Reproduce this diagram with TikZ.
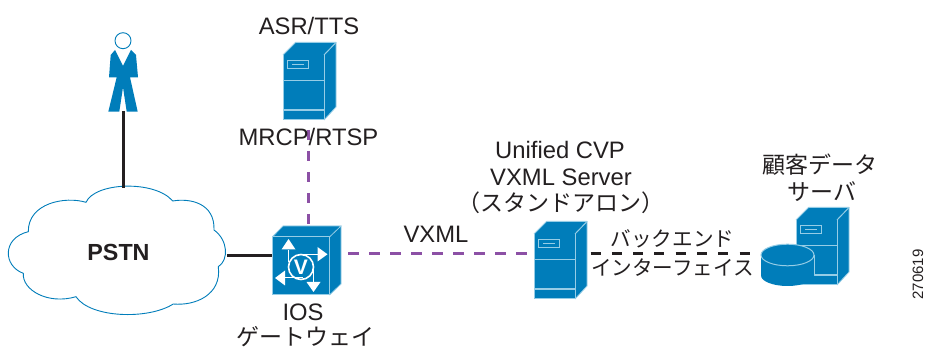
\documentclass[tikz,border=0pt]{standalone}
\usepackage{fontspec}
\setmainfont{Liberation Sans}
\newfontfamily\cjk{Noto Sans CJK JP}
\definecolor{ciscoblue}{RGB}{0,125,186}
\definecolor{linkpurple}{RGB}{140,80,165}
\definecolor{edgeblue}{RGB}{150,205,230}
\definecolor{inktext}{RGB}{35,31,32}
\tikzset{
  lbl/.style={inner sep=0pt,font=\fontsize{23.8}{26}\selectfont,text=inktext},
  jlbl/.style={inner sep=0pt,font=\fontsize{23}{26}\cjk,text=inktext},
  jsmall/.style={inner sep=0pt,font=\fontsize{20.6}{24}\cjk,text=inktext},
  solidlink/.style={line width=3pt,draw=inktext},
  vxmllink/.style={line width=3pt,draw=linkpurple,dash pattern=on 10.5pt off 10.5pt},
  backlink/.style={line width=3pt,draw=inktext,dash pattern=on 10pt off 11.3pt},
  boxnode/.style={inner sep=0pt,minimum width=1pt,minimum height=1pt},
  faceedge/.style={draw=edgeblue,line width=1pt,fill=ciscoblue,line join=round},
  iconline/.style={draw=white,line width=1.5pt},
  iconhead/.style={fill=white,draw=none}
}
% #1 left, #2 top of the front face
\newcommand{\serverbox}[2]{%
  \begin{scope}[shift={(#1,#2)}]
    \fill[ciscoblue] (0,0) -- (12.5,-12.5) -- (53,-12.5) -- (53,52) -- (41,65) -- (0,65) -- cycle;
    \draw[faceedge] (0,0) rectangle (41,65);
    \draw[faceedge] (0,0) -- (12.5,-12.5) -- (53,-12.5) -- (41,0);
    \draw[draw=edgeblue,line width=.8pt] (53,-12.5) -- (53,52) -- (41,65);
    \draw[draw=edgeblue,line width=1.2pt] (0,25.5) -- (41,25.5);
    \draw[draw=edgeblue,line width=1.2pt] (0,55) -- (41,55);
    \draw[draw=edgeblue,line width=1pt] (4.5,5.5) rectangle (25.5,14);
    \draw[draw=edgeblue,line width=1pt] (9,9.7) -- (21,9.7);
  \end{scope}}
\begin{document}
\begin{tikzpicture}[x=1pt,y=-1pt]
\useasboundingbox (0,0) rectangle (927,347);
\fill[white] (0,0) rectangle (927,347);

% person
\node[boxnode,minimum width=30pt,minimum height=80pt] (person) at (123,72) {};
\draw[ciscoblue,line width=.9pt,fill=white] (123,40.7) circle (8pt);
\fill[ciscoblue] (115,50) -- (123,66) -- (131,50) -- (136,55) -- (138,77.3) -- (130,77.3)
  -- (137.7,111.7) -- (126.7,111.7) -- (123,87.3) -- (119.3,111.7) -- (108.3,111.7)
  -- (116.7,77.3) -- (109,77.3) -- (110.7,55) -- cycle;

% cloud
\node[boxnode,minimum width=220pt,minimum height=128pt] (cloud) at (118,252) {};
\draw[ciscoblue,line width=.9pt,fill=white]
  (86,202.3) .. controls (95,182) and (155,180) .. (172.7,201)
  .. controls (190,198) and (215,203) .. (214,230)
  .. controls (228,240) and (229,260) .. (218.3,266.7)
  .. controls (222,295) and (195,306) .. (173.3,304)
  .. controls (148,320) and (90,318) .. (76,296.7)
  .. controls (48,305) and (22,290) .. (23.3,273.3)
  .. controls (3,266) and (2,238) .. (28.3,231.7)
  .. controls (28,203) and (65,196) .. (86,202.3) -- cycle;
\node[inner sep=0pt,font=\bfseries\fontsize{23.3}{26}\selectfont,text=inktext] (pstn) at (118.5,252.5) {PSTN};

% servers
\node[boxnode,minimum width=53pt,minimum height=78pt] (asr) at (309.5,81) {};
\serverbox{283}{55}
\node[boxnode,minimum width=53pt,minimum height=78pt] (vxml) at (560.5,260.5) {};
\serverbox{534}{234}
\node[boxnode,minimum width=53pt,minimum height=78pt] (cust) at (822.5,246.5) {};
\serverbox{796}{220}

% database cylinder
\node[boxnode,minimum width=53pt,minimum height=42pt] (db) at (787.5,265) {};
\fill[ciscoblue] (761,255) arc[start angle=180,end angle=360,x radius=26.5pt,y radius=-10.5pt]
  -- (814,275.5) arc[start angle=0,end angle=180,x radius=26.5pt,y radius=-10.5pt] -- cycle;
\draw[draw=edgeblue,line width=1pt,fill=ciscoblue] (787.5,255) ellipse (26.5pt and 10.8pt);
\draw[draw=edgeblue,line width=.8pt] (814,255) -- (814,275.5);

% gateway
\node[boxnode,minimum width=69pt,minimum height=69pt] (gw) at (306.5,260.5) {};
\fill[ciscoblue] (272,237) -- (283,226) -- (341,226) -- (341,284) -- (329.5,295) -- (272,295) -- cycle;
\draw[faceedge] (272.3,237) rectangle (329.5,295);
\draw[draw=edgeblue,line width=.8pt] (272.3,237) -- (283,226) -- (341,226) -- (329.5,237);
\draw[draw=edgeblue,line width=.8pt] (341,226) -- (341,284) -- (329.5,295);
% gateway icon
\draw[iconline] (288.5,250) -- (288.5,262);
\draw[iconline] (301,254.3) -- (319,254.3);
\draw[iconline] (313.5,268) -- (313.5,282);
\draw[iconline] (284,277.5) -- (303,277.5);
\fill[iconhead] (288.5,239) -- (281.5,249.5) -- (295.5,249.5) -- cycle;
\fill[iconhead] (327.5,254.3) -- (317.5,247) -- (317.5,261.5) -- cycle;
\fill[iconhead] (313.5,292) -- (306.5,282) -- (320.5,282) -- cycle;
\fill[iconhead] (275,278) -- (285,270.5) -- (285,285.5) -- cycle;
\draw[draw=white,line width=1.6pt] (301,267) circle (12.5pt);
\node[inner sep=0pt,text=white,font=\bfseries\fontsize{21}{22}\selectfont] (vmark) at (301,267.5) {V};

% connection points
\coordinate (personb) at (123,111);
\coordinate (cloudt) at (123,188);
\coordinate (cloude) at (227,255.5);
\coordinate (gww) at (272,255.5);
\coordinate (asrb) at (308,130);
\coordinate (gwt) at (308,226);
\coordinate (gwe) at (348,253.5);
\coordinate (vxmlw) at (530,253.5);
\coordinate (vxmle) at (590.5,253.5);
\coordinate (dbw) at (752,253.5);

% connectors
\draw[solidlink] (personb) -- (cloudt);
\draw[solidlink] (cloude) -- (gww);
\draw[vxmllink] (asrb) -- (gwt);
\draw[vxmllink] (gwe) -- (vxmlw);
\draw[backlink] (vxmle) -- (dbw);

% labels
\node[lbl] (l1) at (309,26) {ASR/TTS};
\node[lbl] (l2) at (308.5,137) {MRCP/RTSP};
\node[lbl] (l3) at (303,312) {IOS};
\node[jlbl] (l4) at (305,337) {ゲートウェイ};
\node[lbl] (l5) at (436,234) {VXML};
\node[lbl] (l6) at (560,150) {Unified CVP};
\node[lbl] (l7) at (561,177) {VXML Server};
\node[jlbl] (l8) at (560.5,203) {（スタンドアロン）};
\node[jlbl] (l9) at (819.5,165) {顧客データ};
\node[jlbl] (l10) at (822,192) {サーバ};
\node[jsmall] (l11) at (672.5,239) {バックエンド};
\node[jsmall] (l12) at (672.5,268) {インターフェイス};
\node[inner sep=0pt,rotate=90,font=\fontsize{15}{16}\selectfont,text=inktext] (l13) at (918,274.5) {270619};
\end{tikzpicture}
\end{document}
